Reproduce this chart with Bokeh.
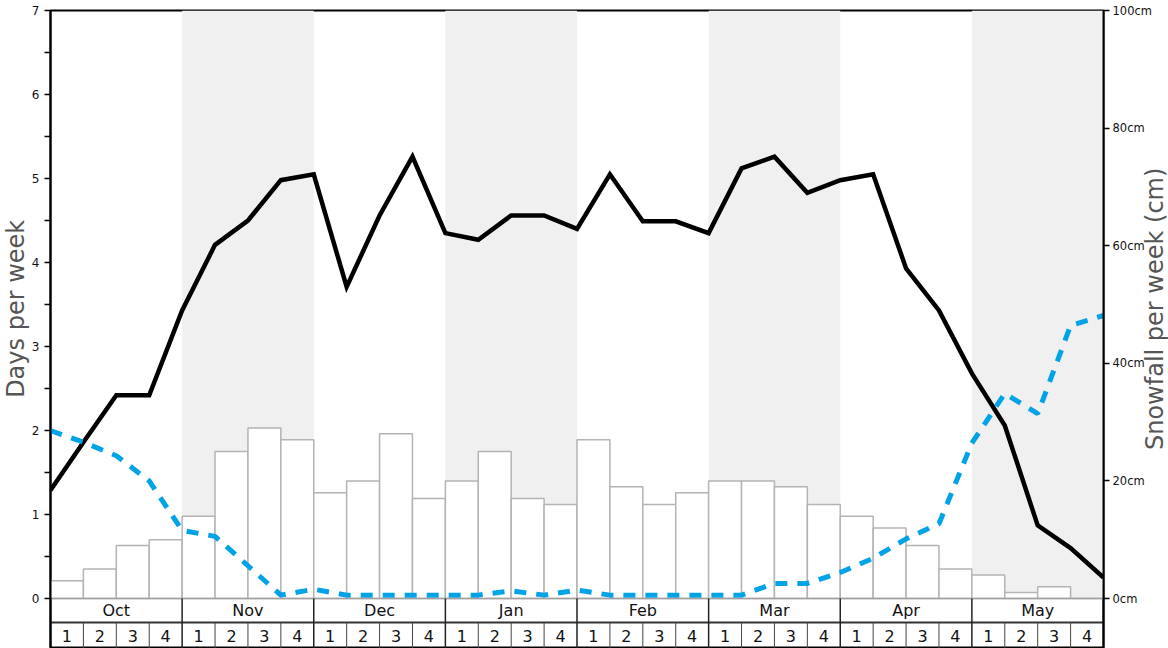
import numpy as np
from bokeh.plotting import figure
from bokeh.layouts import row
from bokeh.models import Range1d, LinearAxis, FixedTicker, PrintfTickFormatter
from bokeh.embed import file_html
from bokeh.resources import INLINE
from bokeh.core.properties import value

# ---------------- data ----------------
months = ["Oct", "Nov", "Dec", "Jan", "Feb", "Mar", "Apr", "May"]
week_labels = ["1", "2", "3", "4"]

# weekly snowfall (cm), one bar per week
snowfall_cm = [3, 5, 9, 10,
               14, 25, 29, 27,
               18, 20, 28, 17,
               20, 25, 17, 16,
               27, 19, 16, 18,
               20, 20, 19, 16,
               14, 12, 9, 5,
               4, 1, 2, 0]

# days per week, sampled at week boundaries (33 points)
days_black = [1.29, 1.86, 2.42, 2.42, 3.43, 4.21, 4.50, 4.98, 5.05, 3.71, 4.56,
              5.26, 4.35, 4.27, 4.56, 4.56, 4.40, 5.05, 4.49, 4.49, 4.35, 5.12,
              5.26, 4.83, 4.98, 5.05, 3.93, 3.43, 2.68, 2.06, 0.87, 0.60, 0.25]
days_blue = [2.00, 1.86, 1.70, 1.40, 0.81, 0.74, 0.39, 0.04, 0.11, 0.04, 0.04,
             0.04, 0.04, 0.04, 0.09, 0.04, 0.10, 0.04, 0.04, 0.04, 0.04, 0.04,
             0.18, 0.18, 0.31, 0.48, 0.71, 0.89, 1.85, 2.44, 2.20, 3.25, 3.37]

left_ticks = [0, 1, 2, 3, 4, 5, 6, 7]
right_ticks = [0, 20, 40, 60, 80, 100]
left_title = "Days per week"
right_title = "Snowfall per week (cm)"

FONT = "DejaVu Sans"
W, H = 1168, 648
SW = 40                      # width of the title strips
PX_PER_DAY = 84.0
TABLE = 50 / PX_PER_DAY      # depth of month/week table below zero (left-axis units)
ROW = 24 / PX_PER_DAY        # month row height
n_weeks = len(months) * len(week_labels)
YMAX = left_ticks[-1]
SNOW_MAX = right_ticks[-1]

p = figure(width=W, height=H, title=None,
           x_range=Range1d(0, n_weeks), y_range=Range1d(-TABLE, YMAX),
           x_axis_location=None, output_backend="svg", toolbar_location=None,
           min_border_left=50, min_border_right=65, min_border_top=10, min_border_bottom=0)
p.extra_y_ranges = {"snow": Range1d(-TABLE * SNOW_MAX / YMAX, SNOW_MAX)}
p.grid.visible = False
p.background_fill_color = "white"
p.border_fill_alpha = 0
p.outline_line_color = "black"
p.outline_line_width = 2
p.outline_line_alpha = 1

# left axis
ya = p.yaxis[0]
ya.ticker = FixedTicker(ticks=left_ticks, minor_ticks=[t + 0.5 for t in left_ticks[:-1]])
ya.axis_line_width = 2
ya.axis_line_color = "black"
ya.major_tick_in = 0
ya.major_tick_out = 6
ya.minor_tick_in = 0
ya.minor_tick_out = 6
ya.major_tick_line_width = 1.5
ya.minor_tick_line_width = 1.5
ya.major_label_standoff = 5
ya.major_label_text_font = FONT
ya.major_label_text_font_size = "12px"
ya.major_label_text_color = "#111111"

# right axis
ra = LinearAxis(y_range_name="snow",
                ticker=FixedTicker(ticks=right_ticks, minor_ticks=[]),
                formatter=PrintfTickFormatter(format="%dcm"))
ra.axis_line_width = 2
ra.axis_line_color = "black"
ra.major_tick_in = 0
ra.major_tick_out = 6
ra.major_tick_line_width = 1.5
ra.major_label_standoff = 3
ra.major_label_text_font = FONT
ra.major_label_text_font_size = "11.5px"
ra.major_label_text_color = "#111111"
p.add_layout(ra, "right")

# alternating month shading
shade_left = [i * 4 for i in range(len(months)) if i % 2 == 1]
p.quad(left=shade_left, right=[l + 4 for l in shade_left], bottom=0, top=YMAX,
       fill_color="#f0f0f0", line_color=None)

# snowfall bars
wk = np.arange(n_weeks)
p.quad(left=wk, right=wk + 1, bottom=0, top=snowfall_cm, y_range_name="snow",
       fill_color="white", line_color="#b4b4b4", line_width=1.5)

# lines
xb = np.arange(len(days_black))
p.line(xb, days_black, line_color="black", line_width=4.5, line_join="miter")
p.line(xb, days_blue, line_color="#00a2e8", line_width=5, line_dash="12 10")

# table
p.segment(x0=[0], y0=[0], x1=[n_weeks], y1=[0], line_color="#a0a0a0", line_width=1.5)
p.segment(x0=[0], y0=[-ROW], x1=[n_weeks], y1=[-ROW], line_color="#333333", line_width=2)
mb = [i * 4 for i in range(1, len(months))]
p.segment(x0=mb, y0=[-TABLE] * len(mb), x1=mb, y1=[0] * len(mb), line_color="#222222", line_width=1.5)
wb = [i for i in range(1, n_weeks) if i % 4 != 0]
p.segment(x0=wb, y0=[-TABLE] * len(wb), x1=wb, y1=[-ROW] * len(wb), line_color="#444444", line_width=1)

p.text(x=[i * 4 + 2 for i in range(len(months))], y=-ROW / 2, text=months,
       text_align="center", text_baseline="middle", text_font=value(FONT),
       text_font_size="16px", text_color="#111111")
p.text(x=wk + 0.5, y=-(ROW + TABLE) / 2, text=week_labels * len(months),
       text_align="center", text_baseline="middle", text_font=value(FONT),
       text_font_size="16px", text_color="#111111")


def title_strip(text, cx, cy_from_top):
    s = figure(width=SW, height=H, title=None, x_range=Range1d(0, SW), y_range=Range1d(0, H),
               x_axis_location=None, y_axis_location=None, output_backend="svg",
               toolbar_location=None, min_border=0)
    s.grid.visible = False
    s.outline_line_color = None
    s.background_fill_alpha = 0
    s.border_fill_alpha = 0
    s.text(x=[cx], y=[H - cy_from_top], text=[text], angle=np.pi / 2,
           text_align="center", text_baseline="middle", text_font=value(FONT),
           text_font_size="24px", text_color="#555555")
    return s


p_left = title_strip(left_title, 15, 303)
p_right = title_strip(right_title, 26, 303)

# overlay: main plot sits over the left strip, right strip sits over the main plot's right edge
p.margin = (0, 0, 0, -SW)
p_right.margin = (0, 0, 0, -SW)

layout = row(p_left, p, p_right)
open("out.html", "w").write(file_html(layout, INLINE))
